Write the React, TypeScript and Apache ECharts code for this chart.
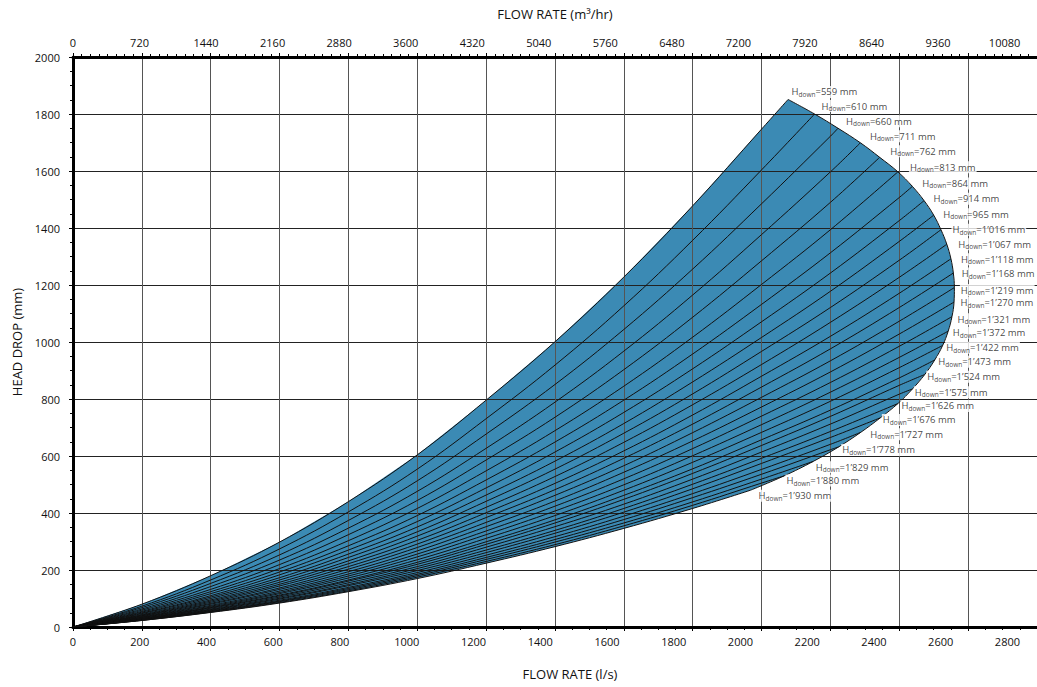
import React, { useEffect, useRef } from "react";
import * as echarts from "echarts";

// Flow grid (l/s) at which the head-drop curves were read
const flowGrid = [0, 200, 400, 600, 800, 1000, 1200, 1400, 1600, 1800, 2000, 2200, 2400];

// Downstream levels (labels of the curves)
const hDown = [
  "559", "610", "660", "711", "762", "813", "864", "914", "965", "1’016",
  "1’067", "1’118", "1’168", "1’219", "1’270", "1’321", "1’372", "1’422", "1’473", "1’524",
  "1’575", "1’626", "1’676", "1’727", "1’778", "1’829", "1’880", "1’930",
];

// Head drop (mm) of each curve at flowGrid points
const headCurves = [
  [0, 80, 180, 298, 440, 604, 796, 1001, 1228, 1478, 1747],
  [0, 73, 165, 274, 404, 554, 731, 919, 1127, 1357, 1604],
  [0, 68, 153, 253, 374, 513, 677, 851, 1044, 1256, 1485, 1722],
  [0, 63, 142, 235, 347, 476, 627, 789, 968, 1165, 1377, 1597],
  [0, 59, 132, 219, 324, 444, 586, 736, 903, 1087, 1285, 1490],
  [0, 55, 124, 205, 303, 416, 548, 689, 845, 1017, 1202, 1394],
  [0, 52, 117, 193, 285, 391, 516, 649, 796, 958, 1132, 1313, 1507],
  [0, 49, 110, 183, 270, 370, 488, 614, 753, 906, 1071, 1242, 1426],
  [0, 47, 105, 173, 256, 351, 463, 582, 714, 860, 1016, 1178, 1353],
  [0, 44, 100, 165, 244, 334, 441, 554, 680, 818, 967, 1121, 1287],
  [0, 42, 95, 157, 232, 319, 420, 528, 648, 780, 921, 1069, 1227],
  [0, 40, 91, 150, 222, 304, 401, 504, 618, 744, 880, 1020, 1171],
  [0, 39, 87, 144, 212, 291, 384, 482, 592, 712, 842, 976, 1121],
  [0, 37, 83, 137, 203, 279, 367, 462, 566, 682, 806, 934, 1073],
  [0, 35, 80, 132, 194, 267, 352, 442, 543, 653, 772, 895, 1028],
  [0, 34, 76, 126, 186, 256, 337, 424, 520, 626, 740, 858, 985],
  [0, 33, 73, 121, 179, 246, 324, 407, 499, 601, 710, 824, 946],
  [0, 31, 70, 117, 172, 236, 311, 391, 480, 578, 683, 792, 910],
  [0, 30, 68, 112, 165, 227, 299, 376, 462, 555, 657, 761, 874],
  [0, 29, 66, 109, 161, 220, 290, 365, 448, 539, 637, 739, 848],
  [0, 28, 63, 105, 155, 212, 280, 352, 431, 519, 614, 712, 817],
  [0, 27, 61, 101, 149, 205, 270, 339, 416, 501, 592, 686],
  [0, 26, 59, 98, 145, 198, 261, 329, 403, 485, 574, 665],
  [0, 25, 57, 94, 139, 191, 252, 317, 389, 468, 553, 641],
  [0, 25, 55, 91, 135, 185, 244, 307, 377, 454, 536, 622],
  [0, 24, 54, 89, 131, 180, 237, 298, 365, 439, 519],
  [0, 23, 52, 86, 127, 175, 230, 289, 355, 427, 505],
  [0, 23, 51, 84, 124, 170, 224, 282, 346, 416],
];

// End point of every curve (flow l/s, head drop mm)
const endFlow = [
  2077, 2154, 2222, 2287, 2343, 2396, 2438, 2472, 2500, 2521,
  2538, 2550, 2557, 2560, 2559, 2553, 2542, 2526, 2503, 2474,
  2438, 2396, 2345, 2288, 2224, 2150, 2065, 1968,
];
const endHead = [
  1851, 1800, 1750, 1699, 1648, 1597, 1546, 1496, 1445, 1394,
  1343, 1292, 1242, 1191, 1140, 1089, 1038, 988, 937, 886,
  835, 784, 734, 683, 632, 581, 530, 480,
];

// Axis tick labels
const flowLsTicks = [0, 200, 400, 600, 800, 1000, 1200, 1400, 1600, 1800, 2000, 2200, 2400, 2600, 2800];
const flowM3Ticks = [0, 720, 1440, 2160, 2880, 3600, 4320, 5040, 5760, 6480, 7200, 7920, 8640, 9360, 10080];
const headTicks = [0, 200, 400, 600, 800, 1000, 1200, 1400, 1600, 1800, 2000];

// Label placement (pixel shift from curve end) – styling only
const labelShift: [number, number][] = [
  [3, -7.5], [6.5, -8], [7.5, -7], [9, -6.5], [10, -6], [11.5, -4.5], [9.5, -3], [9, -2], [9, -1], [11, 0],
  [11, 0], [9.5, 0.5], [8, 0.5], [6, 2.5], [6, 0.5], [5, 2.5], [4, 1.5], [3, 2.3], [3, 1.7], [2, 2.2],
  [2, 3.2], [3, 2.4], [2, 2.1], [9, 2], [3, 3], [2, 5.8], [2, 4.6], [7.5, 5.6],
];

const FONT = "'Open Sans', 'Noto Sans', sans-serif";
const INK = "#111";

export default function App() {
  const ref = useRef<HTMLDivElement>(null);

  useEffect(() => {
    if (!ref.current) return;
    const chart = echarts.init(ref.current, undefined, { renderer: "svg" });

    const curveData = headCurves.map((row, i) => {
      const pts = row.map((h, j) => [flowGrid[j], h]);
      pts.push([endFlow[i], endHead[i]]);
      return pts;
    });
    const envelope = endFlow.map((q, i) => [q, endHead[i]]);

    // outline of the operating region
    const outline: number[][] = [];
    curveData[0].forEach((p) => outline.push(p));
    for (let i = 1; i < envelope.length; i++) outline.push(envelope[i]);
    const last = headCurves[headCurves.length - 1];
    for (let j = last.length - 1; j >= 0; j--) outline.push([flowGrid[j], last[j]]);

    const lsMin = flowLsTicks[0];
    const lsMax = flowLsTicks[flowLsTicks.length - 1];
    const lsStep = flowLsTicks[1] - flowLsTicks[0];
    const m3Min = flowM3Ticks[0];
    const m3Max = flowM3Ticks[flowM3Ticks.length - 1];
    const m3Step = flowM3Ticks[1] - flowM3Ticks[0];

    const lineSeries = curveData.map((pts) => ({
      type: "line",
      xAxisIndex: 0,
      yAxisIndex: 0,
      data: pts,
      showSymbol: false,
      symbol: "none",
      smooth: 0.4,
      silent: true,
      lineStyle: { color: INK, width: 1 },
      z: 3,
    }));

    const option: any = {
      animation: false,
      backgroundColor: "#fff",
      grid: { left: 73, right: -1, top: 57, bottom: 60, containLabel: false },
      xAxis: [
        {
          type: "value",
          position: "bottom",
          min: lsMin,
          max: lsMax,
          interval: lsStep,
          axisLine: { show: true, onZero: false, lineStyle: { color: "#000", width: 3 } },
          axisTick: { show: true, length: 4, lineStyle: { color: "#000", width: 1 } },
          minorTick: { show: true, splitNumber: 4, length: 3, lineStyle: { color: "#000", width: 1 } },
          splitLine: { show: true, lineStyle: { color: "#555", width: 1 } },
          axisLabel: { show: false },
        },
        {
          type: "value",
          position: "top",
          min: m3Min,
          max: m3Max,
          interval: m3Step,
          axisLine: { show: true, onZero: false, lineStyle: { color: "#000", width: 3 } },
          axisTick: { show: true, length: 4, lineStyle: { color: "#000", width: 1 } },
          minorTick: { show: true, splitNumber: 8, length: 3, lineStyle: { color: "#000", width: 1 } },
          splitLine: { show: false },
          axisLabel: { show: false },
        },
        {
          type: "value",
          position: "bottom",
          min: lsMin,
          max: 2888.6,
          interval: lsStep,
          axisLine: { show: false, onZero: false },
          axisTick: { show: false },
          splitLine: { show: false },
          axisLabel: {
            show: true,
            margin: 9,
            fontSize: 11,
            color: INK,
            fontFamily: FONT,
            showMaxLabel: false,
            formatter: (v: number) => (flowLsTicks.indexOf(v) >= 0 ? String(v) : ""),
          },
          name: "FLOW RATE (l/s)",
          nameLocation: "middle",
          nameGap: 40,
          nameTextStyle: { fontSize: 13, color: INK, fontFamily: FONT, padding: [0, 0, 0, 30] },
        },
        {
          type: "value",
          position: "top",
          min: m3Min,
          max: 10431,
          interval: m3Step,
          axisLine: { show: false, onZero: false },
          axisTick: { show: false },
          splitLine: { show: false },
          axisLabel: {
            show: true,
            margin: 9,
            fontSize: 11,
            color: INK,
            fontFamily: FONT,
            showMaxLabel: false,
            formatter: (v: number) => (flowM3Ticks.indexOf(v) >= 0 ? String(v) : ""),
          },
          name: "FLOW RATE (m³/hr)",
          nameLocation: "middle",
          nameGap: 37,
          nameTextStyle: { fontSize: 13, color: INK, fontFamily: FONT },
        },
      ],
      yAxis: [
        {
          type: "value",
          position: "left",
          min: headTicks[0],
          max: headTicks[headTicks.length - 1],
          interval: headTicks[1] - headTicks[0],
          axisLine: { show: true, onZero: false, lineStyle: { color: "#000", width: 3 } },
          axisTick: { show: true, length: 4, lineStyle: { color: "#000", width: 1 } },
          minorTick: { show: true, splitNumber: 4, length: 3, lineStyle: { color: "#000", width: 1 } },
          splitLine: { show: true, lineStyle: { color: "#222", width: 1 } },
          axisLabel: {
            show: true,
            margin: 13,
            fontSize: 11,
            color: INK,
            fontFamily: FONT,
            formatter: (v: number) => String(v),
          },
          name: "HEAD DROP (mm)",
          nameLocation: "middle",
          nameRotate: 90,
          nameGap: 49,
          nameTextStyle: { fontSize: 13, color: INK, fontFamily: FONT },
        },
      ],
      series: [
        {
          type: "custom",
          coordinateSystem: "cartesian2d",
          xAxisIndex: 0,
          yAxisIndex: 0,
          data: [[0, 0]],
          silent: true,
          z: -10,
          renderItem: (_params: any, api: any) => ({
            type: "polygon",
            shape: { points: outline.map((p) => api.coord(p)) },
            style: { fill: "#3b8ab4", stroke: "none" },
          }),
        },
        ...lineSeries,
        {
          type: "line",
          xAxisIndex: 0,
          yAxisIndex: 0,
          data: envelope,
          showSymbol: false,
          symbol: "none",
          smooth: 0.4,
          silent: true,
          lineStyle: { color: INK, width: 1 },
          z: 3,
        },
        {
          type: "scatter",
          xAxisIndex: 0,
          yAxisIndex: 0,
          silent: true,
          symbolSize: 1,
          itemStyle: { color: "rgba(0,0,0,0)" },
          z: 6,
          data: endFlow.map((q, i) => ({
            value: [q, endHead[i]],
            label: { offset: [labelShift[i][0] - 1, labelShift[i][1]] },
          })),
          label: {
            show: true,
            position: "right",
            distance: 0,
            color: INK,
            backgroundColor: "#fff",
            padding: [0, 1, 0, 1],
            formatter: (p: any) => `{h|H}{s|down}{h|=${hDown[p.dataIndex]} mm}`,
            rich: {
              h: { fontSize: 9.5, fontFamily: FONT, color: INK, lineHeight: 12 },
              s: { fontSize: 6.5, fontFamily: FONT, color: INK, lineHeight: 7, verticalAlign: "bottom" },
            },
          },
        },
      ],
    };

    chart.setOption(option);
    return () => chart.dispose();
  }, []);

  return (
    <div
      ref={ref}
      style={{ position: "fixed", left: 0, top: 0, width: 1037, height: 687, background: "#fff" }}
    />
  );
}
